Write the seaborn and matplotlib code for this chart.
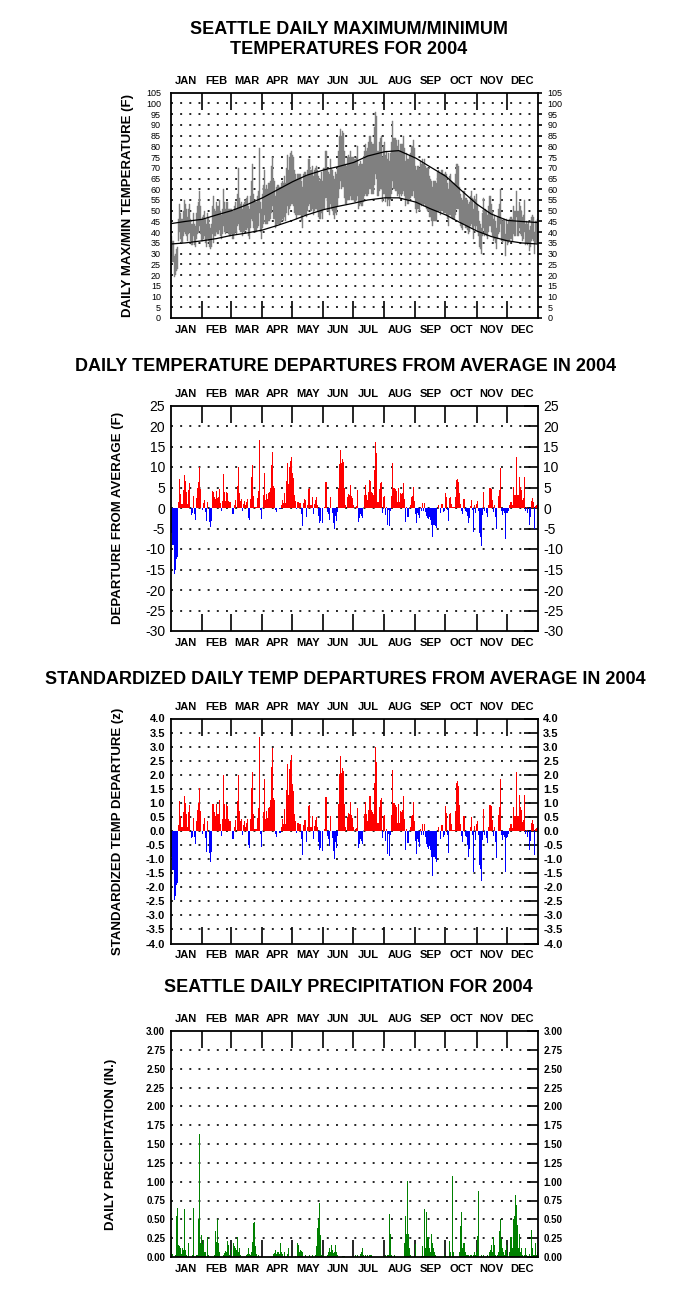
import numpy as np
import pandas as pd
import matplotlib
matplotlib.use('Agg')
import matplotlib.pyplot as plt
import seaborn as sns

MONTHS = ['JAN', 'FEB', 'MAR', 'APR', 'MAY', 'JUN', 'JUL', 'AUG', 'SEP', 'OCT', 'NOV', 'DEC']
MONTH_DAYS = [31, 29, 31, 30, 31, 30, 31, 31, 30, 31, 30, 31]

# daily max / min temperature (F), 2004
TMAX = [38, 36, 36, 29, 30, 32, 33, 46, 53, 49,
        46, 46, 50, 55, 53, 51, 47, 51, 53, 46,
        44, 44, 49, 44, 43, 49, 52, 54, 59, 52,
        46, 47, 48, 50, 46, 44, 49, 47, 44, 42,
        44, 52, 57, 51, 50, 54, 52, 52, 55, 50,
        48, 51, 60, 54, 51, 54, 54, 51, 51, 51,
        51, 50, 50, 52, 54, 51, 58, 70, 56, 53,
        54, 51, 53, 54, 55, 56, 57, 52, 51, 57,
        64, 72, 58, 54, 54, 54, 57, 59, 79, 54,
        51, 58, 62, 69, 60, 62, 60, 63, 63, 64,
        71, 75, 65, 64, 57, 61, 62, 62, 61, 61,
        63, 64, 63, 66, 63, 70, 76, 69, 75, 77,
        78, 76, 75, 69, 67, 65, 67, 67, 67, 67,
        64, 61, 67, 68, 68, 66, 69, 74, 74, 69,
        69, 71, 66, 69, 70, 71, 69, 66, 64, 65,
        68, 64, 70, 70, 78, 78, 69, 68, 67, 74,
        70, 69, 66, 65, 68, 67, 70, 78, 85, 88,
        85, 87, 86, 78, 72, 71, 75, 76, 75, 78,
        75, 75, 75, 74, 74, 75, 80, 71, 72, 73,
        72, 72, 74, 78, 81, 78, 79, 82, 85, 85,
        82, 81, 81, 89, 96, 94, 78, 78, 82, 84,
        85, 75, 80, 82, 76, 78, 74, 77, 73, 77,
        82, 92, 84, 84, 84, 83, 80, 83, 78, 81,
        81, 81, 85, 79, 73, 77, 74, 74, 76, 77,
        80, 80, 83, 79, 71, 69, 71, 71, 70, 73,
        72, 74, 72, 74, 71, 70, 70, 70, 66, 65,
        64, 61, 64, 64, 64, 63, 68, 69, 68, 67,
        69, 69, 67, 67, 68, 67, 63, 60, 66, 67,
        64, 63, 63, 63, 67, 72, 72, 71, 61, 58,
        56, 55, 59, 56, 56, 55, 53, 54, 57, 59,
        56, 51, 57, 55, 58, 53, 50, 45, 44, 42,
        49, 56, 50, 51, 50, 48, 52, 57, 57, 53,
        50, 46, 48, 45, 42, 47, 51, 53, 60, 46,
        45, 46, 46, 39, 46, 44, 45, 46, 47, 47,
        46, 52, 50, 50, 59, 50, 50, 54, 52, 50,
        47, 48, 55, 44, 45, 44, 45, 41, 43, 47,
        48, 47, 40, 45, 45, 46]
TMIN = [29, 26, 26, 19, 20, 22, 23, 36, 40, 37,
        35, 35, 38, 40, 39, 38, 36, 39, 40, 36,
        34, 34, 38, 34, 33, 37, 39, 40, 43, 39,
        36, 36, 37, 38, 35, 33, 37, 36, 33, 32,
        33, 39, 35, 38, 38, 40, 39, 39, 41, 38,
        37, 39, 43, 40, 39, 40, 40, 39, 38, 38,
        39, 37, 37, 39, 40, 39, 43, 44, 41, 40,
        40, 38, 40, 40, 41, 41, 42, 38, 37, 42,
        46, 45, 42, 40, 40, 40, 42, 43, 49, 40,
        37, 42, 44, 48, 44, 44, 44, 45, 45, 46,
        49, 52, 46, 46, 42, 43, 44, 44, 44, 44,
        45, 46, 45, 47, 45, 49, 52, 48, 51, 52,
        53, 53, 52, 49, 48, 46, 48, 48, 48, 48,
        45, 42, 48, 48, 48, 47, 50, 52, 53, 50,
        50, 51, 48, 50, 51, 51, 50, 47, 46, 46,
        49, 46, 51, 51, 56, 56, 50, 50, 48, 53,
        51, 50, 48, 46, 49, 48, 52, 56, 60, 64,
        60, 61, 61, 56, 53, 53, 55, 55, 55, 57,
        55, 55, 55, 54, 54, 55, 57, 51, 52, 53,
        52, 52, 54, 57, 58, 57, 57, 58, 60, 60,
        58, 58, 58, 62, 67, 65, 57, 57, 59, 60,
        60, 54, 58, 58, 54, 56, 52, 55, 52, 55,
        58, 64, 60, 60, 59, 59, 57, 58, 56, 58,
        57, 58, 59, 57, 52, 55, 53, 53, 55, 56,
        57, 57, 59, 56, 51, 49, 51, 51, 50, 53,
        52, 53, 52, 53, 52, 51, 50, 50, 47, 47,
        45, 43, 45, 45, 45, 45, 50, 50, 50, 48,
        50, 50, 49, 49, 49, 48, 46, 43, 48, 48,
        47, 46, 46, 46, 48, 51, 51, 51, 45, 43,
        42, 41, 44, 42, 42, 41, 39, 40, 43, 44,
        42, 37, 43, 41, 43, 40, 38, 33, 32, 30,
        38, 42, 38, 39, 38, 37, 40, 43, 43, 40,
        38, 36, 37, 35, 32, 37, 39, 40, 44, 36,
        35, 36, 36, 29, 36, 34, 35, 36, 37, 37,
        36, 39, 38, 38, 47, 38, 38, 42, 39, 38,
        36, 37, 40, 34, 35, 34, 35, 31, 33, 36,
        37, 36, 30, 35, 35, 35]

# average (normal) max / min, read at the 1st and 15th of each month
NORMAL_DAYS = [0, 14, 31, 45, 60, 74, 91, 105, 121, 135, 152, 166, 182,
               196, 213, 227, 244, 258, 274, 288, 305, 319, 335, 349, 365]
NORMAL_MAX = [44, 45, 46, 48, 50, 52.5, 56, 59.5, 63.5, 66.5, 69, 70.5, 72.5,
              75.5, 77.5, 78, 74.5, 70.5, 66, 60, 53, 48.5, 45.5, 45, 44.5]
NORMAL_MIN = [34.5, 35, 36, 37, 38.5, 39.5, 41, 43, 45.5, 48, 50.5, 52, 53.5,
              55, 56, 56, 54, 51, 48, 44.5, 40.5, 38, 36, 35, 34.5]

# daily mean temperature departure from average (F)
DEPARTURE = [-6, -9, -9, -16, -15, -12.5, -12, 1.5, 7, 3.5,
             1, 1, 4.5, 8, 6.5, 4, 1, 4.5, 6, 0,
             -1.7, -1.3, 3, -1.5, -3, 2.4, 4.8, 6.4, 10, 4.6,
             0, -0.5, 1.1, 2, -1, -3.2, 1.5, 0, -3.3, -4.7,
             -3.1, 4.1, 4, 2.8, 2.2, 4.1, 2.5, 2.6, 4.6, 1.1,
             -0.7, 1.8, 8.3, 4, 1.8, 4, 3.7, 1.8, 1.5, 1.5,
             0, -1.5, -1.5, 0.7, 2, 0, 5.4, 10, 3.6, 1.7,
             2.2, -0.7, 1, 1.8, 0.7, 1.5, 2.2, -2.5, -3, 2.2,
             7.6, 10.5, 3, 0.3, 0.3, 0.3, 2.4, 4.1, 16.7, -0.5,
             -2.8, 0, 3.1, 8.5, 2, 3.3, 2.1, 3.7, 4, 5,
             10.5, 13.6, 5.4, 5, -0.5, -0.9, 0, 0, -0.3, -0.3,
             0.7, 2, 1.1, 3.6, 1.1, 6.7, 10.9, 5.9, 10.1, 11.5,
             12.4, 8.6, 7.4, 3.2, 1.8, -0.3, 1.5, 1.4, 1.3, 1.3,
             -1.5, -4.4, 1.1, 2.1, 2, -2.1, 0.7, 4.6, 4.8, 0.7,
             0.7, 2.8, -1.5, 1, 2, 2.6, 0.8, -2, -3.6, -3.1,
             0, -3.7, 0, 0.3, 6.4, 6.4, -0.9, -1.5, -2.9, 2.8,
             0, -1.3, -3.7, -5.2, -2, -3.2, -1, 5, 10.7, 14.1,
             10.9, 11.9, 11.3, 5, 0.7, 0, 2.6, 3.4, 3.2, 5.5,
             3, 2.5, 0.8, 0, 0.3, 0.5, 4.4, -3.3, -2.4, -1.5,
             -2, -2.5, 0, 3.2, 5.6, 3.2, 2, 4, 6.8, 6.7,
             4, 3.7, 3.2, 9.3, 16.2, 13.3, 1.5, 1.5, 4.6, 6,
             6.4, -1.3, 2.8, 2.9, -1.8, 0.3, -4.1, -0.5, -4.4, -0.7,
             2.9, 10.9, 5, 5, 4.6, 4.2, 1.5, 4.8, 1.5, 3.6,
             3.4, 3.7, 6.2, 2.1, -3.3, 0.3, -2.1, -2.1, 0, 0.7,
             2.6, 2.9, 5.2, 1.8, -1.5, -3.6, -1.3, -1.7, -2.5, 0.3,
             -0.7, 1.1, -0.7, 1.1, -0.9, -2, -2.5, -2.8, -2.3, -2.9,
             -4.1, -7, -4.1, -4.1, -4.4, -4.9, 0, 0.7, 0, -1.3,
             1, 1, -0.9, -0.7, 3.6, 2.6, -0.5, -3.1, 2.4, 2.6,
             1, 0.2, 0.2, 0.2, 2.8, 6.8, 7.1, 6.4, 3.7, 1,
             -0.7, -1.5, 2.2, -0.7, -0.9, -2, -3.7, -2.5, 0.6, 2,
             -0.5, -5.8, 0.7, -1.3, 1, 1.8, -0.7, -6.2, -7, -9.3,
             -1.7, 4, -0.7, 0, -1.3, -2.3, 0.7, 4.8, 4.8, 4.6,
             2, -0.9, 0.7, -2.1, -5, 0, 2.9, 4.4, 9.7, -0.7,
             -1.7, -0.7, -1.1, -7.6, -1.3, -1.3, -0.7, 0.7, 1.5, 1.5,
             0.7, 5.2, 3.2, 3.2, 12.5, 3.2, 3.2, 7.6, 5.2, 4.4,
             2, 2.4, 7.6, -0.7, 0.2, -1.3, 0, -4.1, -2.1, 1.8,
             2.4, 1.5, -5.2, 0.5, 0.7, 0.9]

# standard deviation of daily mean temperature for each month (F)
DEPARTURE_SD = [6.5, 4.2, 5.0, 4.6, 5.2, 5.3, 5.4, 5.0, 4.4, 4.0, 5.2, 6.0]

# daily precipitation (inches)
PRECIP = [0.28, 0.04, 0, 0, 0.02, 0.54, 0.65, 0.16, 0.14, 0.12,
          0.04, 0.12, 0.09, 0.64, 0.09, 0.03, 0, 0.19, 0, 0,
          0, 0.02, 0.65, 0, 0, 0.03, 0.03, 0.5, 1.63, 0.18,
          0.29, 0.17, 0.22, 0.07, 0.07, 0, 0.26, 0.02, 0, 0,
          0, 0, 0, 0.02, 0.35, 0.2, 0.5, 0.19, 0.06, 0,
          0, 0, 0.02, 0.05, 0.08, 0.06, 0.21, 0.16, 0.02, 0,
          0.09, 0, 0.19, 0.14, 0.12, 0.09, 0.26, 0.06, 0.12, 0.02,
          0, 0, 0, 0, 0, 0.02, 0.04, 0.12, 0.04, 0.02,
          0.07, 0.2, 0.45, 0.47, 0.15, 0.04, 0, 0.02, 0, 0,
          0, 0, 0, 0, 0, 0, 0, 0, 0, 0,
          0, 0, 0.04, 0.05, 0.09, 0.04, 0.06, 0.06, 0.04, 0.19,
          0.06, 0.04, 0, 0.07, 0, 0, 0.04, 0.12, 0, 0,
          0, 0, 0, 0, 0.01, 0, 0.19, 0.16, 0.06, 0.09,
          0.08, 0.06, 0, 0, 0.02, 0, 0, 0, 0.02, 0,
          0, 0.03, 0, 0, 0.02, 0.14, 0.38, 0.51, 0.72, 0.29,
          0.03, 0, 0.02, 0, 0, 0, 0.02, 0.07, 0.12, 0.07,
          0.16, 0.09, 0.05, 0.06, 0.16, 0.06, 0.02, 0, 0, 0,
          0, 0.01, 0.01, 0.01, 0, 0, 0, 0, 0, 0,
          0, 0, 0, 0, 0.02, 0, 0.03, 0, 0, 0.04,
          0.06, 0.12, 0.02, 0, 0.02, 0, 0.02, 0, 0.02, 0.02,
          0.02, 0, 0, 0, 0, 0, 0, 0, 0, 0,
          0, 0, 0, 0, 0.02, 0, 0.03, 0.03, 0.57, 0.3,
          0.02, 0, 0, 0.02, 0, 0, 0, 0, 0, 0,
          0, 0, 0, 0.19, 0.54, 0.31, 1.01, 0.31, 0.12, 0.02,
          0, 0, 0, 0, 0.17, 0, 0, 0, 0, 0,
          0.01, 0.15, 0.01, 0.64, 0.12, 0.6, 0.27, 0.26, 0.12, 0.07,
          0.31, 0.19, 0.12, 0.06, 0.02, 0, 0, 0, 0, 0,
          0, 0, 0, 0.02, 0, 0, 0, 0, 0.21, 0.06,
          0, 1.08, 0.06, 0, 0, 0, 0, 0, 0.07, 0.41,
          0.6, 0.12, 0.19, 0.07, 0.02, 0.03, 0.02, 0, 0.03, 0.03,
          0, 0.02, 0.07, 0.02, 0.06, 0.28, 0.88, 0, 0, 0.02,
          0, 0.02, 0, 0, 0, 0.02, 0, 0.06, 0.09, 0.16,
          0.06, 0.27, 0.16, 0.03, 0, 0.02, 0.06, 0.34, 0.51, 0.24,
          0.12, 0.06, 0.03, 0.09, 0.16, 0.02, 0, 0.07, 0.26, 0.26,
          0.12, 0.51, 0.54, 0.82, 0.69, 0.42, 0.12, 0.31, 0.06, 0.12,
          0.02, 0, 0.02, 0.12, 0.02, 0, 0, 0.04, 0, 0.36,
          0.12, 0.02, 0.03, 0.19, 0.02, 0.06]

sns.set_style('white')
plt.rcParams['font.family'] = ['Liberation Sans', 'DejaVu Sans']
plt.rcParams['axes.unicode_minus'] = False
plt.rcParams['lines.scale_dashes'] = False
for key in ['text.color', 'axes.labelcolor', 'xtick.color', 'ytick.color', 'axes.edgecolor']:
    plt.rcParams[key] = 'black'

days = np.arange(366)
bounds = np.cumsum([0] + MONTH_DAYS)
centers = bounds[:-1] + np.array(MONTH_DAYS) / 2 - 0.5

W, H = 698, 1292
fig = plt.figure(figsize=(W / 100, H / 100), dpi=100)


def make_axes(top, bottom):
    return fig.add_axes([170.7 / W, 1 - bottom / H, 367 / W, (bottom - top) / H])


def style_axis(ax, ylim, yticks, fmt, ysize, yweight, right_dir, right_len, ylabel, label_x):
    ax.set_xlim(-0.5, 365.5)
    ax.set_ylim(*ylim)
    ax.set_xticks(centers)
    ax.set_xticklabels(MONTHS, fontsize=8, fontweight='bold')
    ax.set_xticks(bounds[1:-1] - 0.5, minor=True)
    ax.tick_params(axis='x', which='major', length=0, top=True, bottom=True,
                   labeltop=True, labelbottom=True, pad=5)
    ax.tick_params(axis='x', which='minor', direction='in', length=12, width=1.2,
                   top=True, bottom=True, color='black')
    ax.set_yticks(yticks)
    ax.set_yticklabels([fmt.format(v) for v in yticks], fontsize=ysize, fontweight=yweight)
    ax.tick_params(axis='y', left=False, right=True, labelleft=True, labelright=True,
                   direction=right_dir, length=right_len, width=1.2, color='black', pad=4)
    for y in yticks:
        if ylim[0] < y < ylim[1]:
            ax.axhline(y, color='black', lw=1.2, ls=(0, (1.4, 5.2)), zorder=0)
    for s in ax.spines.values():
        s.set_color('black')
        s.set_linewidth(1.3)
    ax.set_xlabel('')
    ax.set_ylabel(ylabel, fontsize=9.5, fontweight='bold')
    ax.yaxis.set_label_coords(label_x, 0.5)


# Panel 1: daily max/min temperatures
ax1 = make_axes(92.7, 318)
tmax = np.array(TMAX)
tmin = np.array(TMIN)
ax1.bar(days, tmax - tmin, bottom=tmin, width=1, color='#808080', edgecolor='#808080',
        linewidth=0.3, zorder=2)
sns.lineplot(x=NORMAL_DAYS, y=NORMAL_MAX, color='black', linewidth=0.9, ax=ax1, zorder=3)
sns.lineplot(x=NORMAL_DAYS, y=NORMAL_MIN, color='black', linewidth=0.9, ax=ax1, zorder=3)
style_axis(ax1, (0, 105), list(range(0, 106, 5)), '{:d}', 6.5, 'normal', 'out', 3,
           'DAILY MAX/MIN TEMPERATURE (F)', -0.10)

# Panel 2: departures
dep = np.array(DEPARTURE, dtype=float)
dep_df = pd.DataFrame({'day': days, 'dep': dep,
                       'sign': np.where(dep >= 0, 'above', 'below')})
ax2 = make_axes(405.5, 631)
sns.barplot(data=dep_df, x='day', y='dep', hue='sign', palette={'above': '#ff0000', 'below': '#0000ff'},
            native_scale=True, width=1, dodge=False, errorbar=None, legend=False,
            saturation=1, linewidth=0, antialiased=False, ax=ax2, zorder=2)
style_axis(ax2, (-30, 25), list(range(-30, 26, 5)), '{:d}', 10, 'normal', 'in', 10,
           'DEPARTURE FROM AVERAGE (F)', -0.128)

# Panel 3: standardized departures
sd_daily = np.repeat(DEPARTURE_SD, MONTH_DAYS)
z_df = pd.DataFrame({'day': days, 'z': dep / sd_daily,
                     'sign': np.where(dep >= 0, 'above', 'below')})
ax3 = make_axes(718.5, 943.5)
sns.barplot(data=z_df, x='day', y='z', hue='sign', palette={'above': '#ff0000', 'below': '#0000ff'},
            native_scale=True, width=1, dodge=False, errorbar=None, legend=False,
            saturation=1, linewidth=0, antialiased=False, ax=ax3, zorder=2)
style_axis(ax3, (-4, 4), [v / 2 for v in range(-8, 9)], '{:.1f}', 8, 'bold', 'in', 10,
           'STANDARDIZED TEMP DEPARTURE (z)', -0.128)

# Panel 4: precipitation
pr_df = pd.DataFrame({'day': days, 'precip': PRECIP})
ax4 = make_axes(1031, 1257)
sns.barplot(data=pr_df, x='day', y='precip', color='#008000', native_scale=True, width=1,
            errorbar=None, saturation=1, linewidth=0, antialiased=False, ax=ax4, zorder=2)
style_axis(ax4, (0, 3), [v / 4 for v in range(0, 13)], '{:.2f}', 7, 'bold', 'in', 8,
           'DAILY PRECIPITATION (IN.)', -0.145)

tkw = dict(ha='center', va='center', fontsize=13, fontweight='bold', color='black')
fig.text(349 / W, 1 - 30 / H, 'SEATTLE DAILY MAXIMUM/MINIMUM', **tkw)
fig.text(349 / W, 1 - 49 / H, 'TEMPERATURES FOR 2004', **tkw)
fig.text(346 / W, 1 - 367 / H, 'DAILY TEMPERATURE DEPARTURES FROM AVERAGE IN 2004', **tkw)
fig.text(345 / W, 1 - 679 / H, 'STANDARDIZED DAILY TEMP DEPARTURES FROM AVERAGE IN 2004', **tkw)
fig.text(348 / W, 1 - 988 / H, 'SEATTLE DAILY PRECIPITATION FOR 2004', **tkw)

fig.savefig('out.png', dpi=100)
